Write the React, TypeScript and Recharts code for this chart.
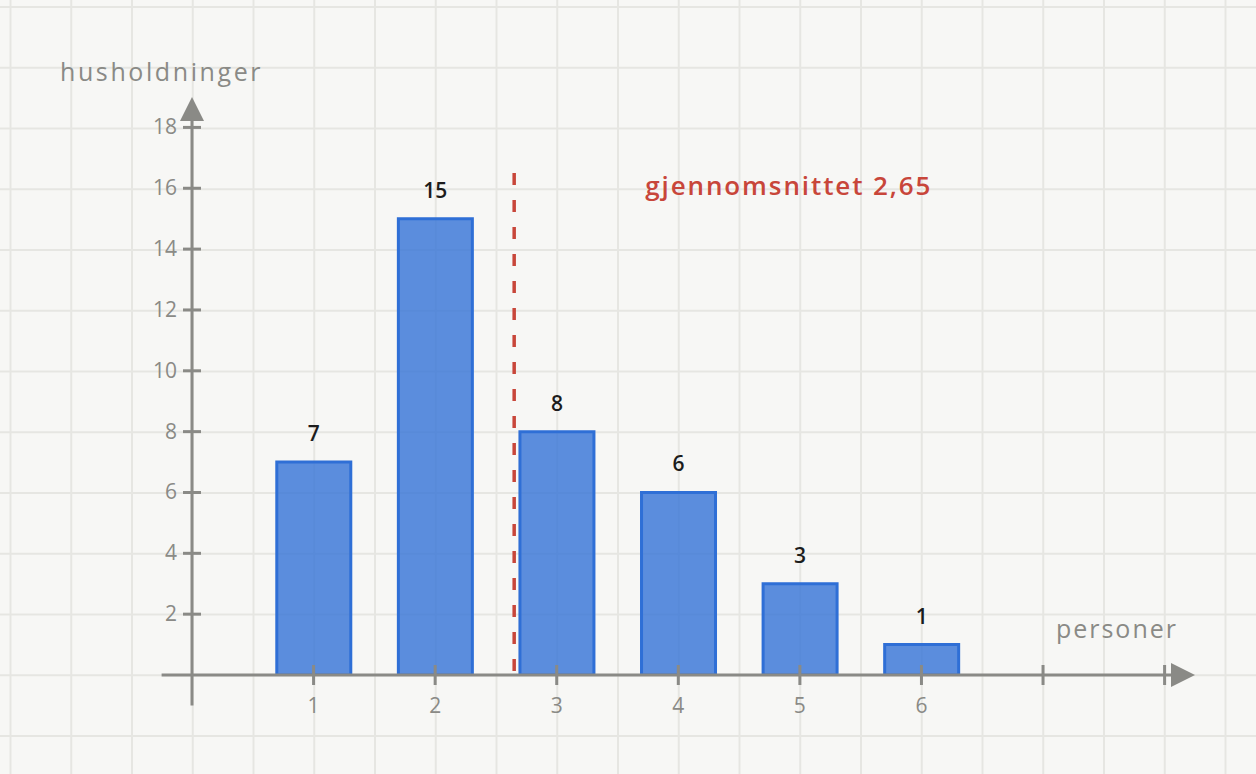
import { ComposedChart, Bar, XAxis, YAxis, ReferenceLine, ReferenceDot, LabelList } from 'recharts';

const persons = [1, 2, 3, 4, 5, 6];
const households = [7, 15, 8, 6, 3, 1];
const xTicks = [1, 2, 3, 4, 5, 6, 7, 8];
const xLabelled = [1, 2, 3, 4, 5, 6];
const yTicks = [2, 4, 6, 8, 10, 12, 14, 16, 18];
const mean = 2.65;
const meanLabel = 'gjennomsnittet 2,65';
const xTitle = 'personer';
const yTitle = 'husholdninger';

const data = persons.map((p, i) => ({ x: p, v: households[i] }));

const AXIS = '#8a8a86';
const BLUE = '#2f6fd6';
const RED = '#c8463a';
const FONT = '"Open Sans", Lato, sans-serif';

function XTick({ x, y, payload }: any) {
  return (
    <g>
      <line x1={x} x2={x} y1={y - 10} y2={y + 10} stroke={AXIS} strokeWidth={3} />
      {xLabelled.includes(payload.value) && (
        <text x={x} y={y + 38} textAnchor="middle" fill={AXIS} fontSize={21} fontWeight={500} fontFamily={FONT}>
          {payload.value}
        </text>
      )}
    </g>
  );
}

function YTick({ x, y, payload }: any) {
  return (
    <g>
      <line x1={x - 9} x2={x + 9} y1={y} y2={y} stroke={AXIS} strokeWidth={3} />
      <text x={x - 15} y={y + 7} textAnchor="end" fill={AXIS} fontSize={21} fontWeight={500} fontFamily={FONT}>
        {payload.value}
      </text>
    </g>
  );
}

export default function App() {
  return (
    <div
      style={{
        position: 'absolute',
        left: 0,
        top: 0,
        width: 1256,
        height: 774,
        backgroundColor: '#f7f7f5',
        backgroundImage:
          'linear-gradient(to right, #e6e6e2 1.5px, transparent 1.5px), linear-gradient(to bottom, #e6e6e2 1.5px, transparent 1.5px)',
        backgroundSize: '60.75px 60.75px',
        backgroundPosition: '9.5px 6px',
      }}
    >
      <ComposedChart width={1256} height={774} data={data} margin={{ top: 97, right: 61, bottom: 0, left: 0 }}>
        <XAxis
          type="number"
          dataKey="x"
          domain={[0, 8.25]}
          ticks={xTicks}
          allowDataOverflow
          axisLine={false}
          tickLine={false}
          tickSize={0}
          tickMargin={0}
          height={99}
          tick={<XTick />}
          label={{
            content: ({ viewBox }: any) => (
              <text
                x={viewBox.x + viewBox.width - 17}
                y={viewBox.y - 37}
                textAnchor="end"
                fill={AXIS}
                fontSize={25}
                fontWeight={500}
                letterSpacing={2}
                fontFamily={FONT}
              >
                {xTitle}
              </text>
            ),
          }}
        />
        <YAxis
          type="number"
          domain={[0, 19]}
          ticks={yTicks}
          allowDataOverflow
          axisLine={false}
          tickLine={false}
          tickSize={0}
          tickMargin={0}
          width={192}
          tick={<YTick />}
          label={{
            content: ({ viewBox }: any) => (
              <text
                x={60}
                y={viewBox.y - 16}
                fill={AXIS}
                fontSize={25}
                fontWeight={500}
                letterSpacing={2.6}
                fontFamily={FONT}
              >
                {yTitle}
              </text>
            ),
          }}
        />
        <ReferenceLine
          segment={[{ x: -0.25, y: 0 }, { x: 8.1, y: 0 }]}
          stroke={AXIS}
          strokeWidth={3}
          ifOverflow="visible"
        />
        <ReferenceLine
          segment={[{ x: 0, y: -1 }, { x: 0, y: 18.5 }]}
          stroke={AXIS}
          strokeWidth={3}
          ifOverflow="visible"
        />
        <ReferenceDot
          x={8.25}
          y={0}
          ifOverflow="visible"
          shape={(p: any) => (
            <polygon points={`${p.cx},${p.cy} ${p.cx - 24},${p.cy - 12} ${p.cx - 24},${p.cy + 12}`} fill={AXIS} />
          )}
        />
        <ReferenceDot
          x={0}
          y={19}
          ifOverflow="visible"
          shape={(p: any) => (
            <polygon points={`${p.cx},${p.cy} ${p.cx - 12},${p.cy + 24} ${p.cx + 12},${p.cy + 24}`} fill={AXIS} />
          )}
        />
        <Bar
          dataKey="v"
          barSize={74}
          fill={BLUE}
          fillOpacity={0.78}
          stroke={BLUE}
          strokeWidth={3}
          isAnimationActive={false}
        >
          <LabelList dataKey="v" position="top" offset={21} fill="#1c1c1c" fontSize={21} fontWeight={600} fontFamily={FONT} />
        </Bar>
        <ReferenceLine
          segment={[{ x: mean, y: 16.5 }, { x: mean, y: 0 }]}
          stroke={RED}
          strokeWidth={3.5}
          strokeDasharray="12 15"
          ifOverflow="visible"
          label={{
            content: ({ viewBox }: any) => (
              <text
                x={viewBox.x + 131}
                y={viewBox.y + 22}
                fill={RED}
                fontSize={26}
                fontWeight={600}
                letterSpacing={1.9}
                fontFamily={FONT}
              >
                {meanLabel}
              </text>
            ),
          }}
        />
      </ComposedChart>
    </div>
  );
}
